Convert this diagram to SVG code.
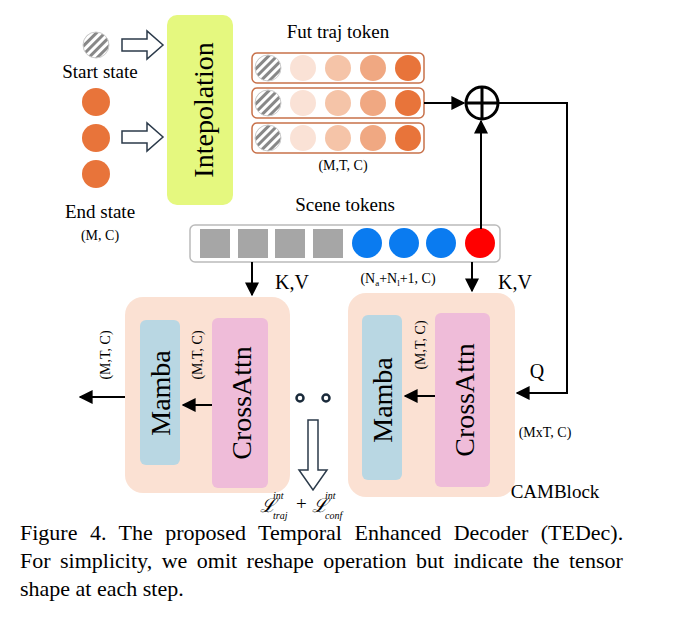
<svg xmlns="http://www.w3.org/2000/svg" width="674" height="620" viewBox="0 0 674 620">
<defs>
<pattern id="hatch" width="6" height="6" patternUnits="userSpaceOnUse" patternTransform="rotate(45)">
<rect width="6" height="6" fill="#fff"/><rect width="3" height="6" fill="#888"/>
</pattern>
<marker id="ah" viewBox="0 0 10 10" refX="9" refY="5" markerWidth="7" markerHeight="7" orient="auto-start-reverse"><path d="M0,0 L10,5 L0,10 z" fill="#000"/></marker>
</defs>
<style>
text{font-family:"Liberation Serif",serif;fill:#000}
.s{font-size:14px}
.m{font-size:19px}
.row{fill:#fff;stroke:#c8714a;stroke-width:1.5}
.c1{fill:#fae2d6}.c2{fill:#f5c4a8}.c3{fill:#f0a882}.c4{fill:#e8743a}
.ln{stroke:#000;stroke-width:2;fill:none}
.hol{fill:#fff;stroke:#2b3a4a;stroke-width:1.5}
.blk{fill:#fbe1d3}
.mam{fill:#b9d7e3}
.ca{fill:#efbcd9}
.sq{fill:#a6a6a6}
.bl{fill:#0a7bf0}
.sub{font-size:10px;font-style:italic}
</style>
<g id="start"><circle cx="96" cy="45" r="13" fill="url(#hatch)" stroke="#ccc"/><text x="100" y="78" text-anchor="middle" class="m">Start state</text></g>
<g id="end"><circle cx="96" cy="102" r="14" class="c4"/><circle cx="96" cy="138" r="14" class="c4"/><circle cx="96" cy="174" r="14" class="c4"/>
<text x="100" y="218" text-anchor="middle" class="m">End state</text><text x="100" y="240" text-anchor="middle" class="s">(M, C)</text></g>
<g id="hollow-arrows">
<path d="M122,39 H147 V31 L163,45 L147,59 V51 H122 Z" class="hol"/>
<path d="M122,131 H147 V123 L163,137 L147,151 V143 H122 Z" class="hol"/>
</g>
<g id="interp"><rect x="167" y="15" width="66" height="190" rx="10" fill="#e5f87f"/>
<text transform="translate(213,110) rotate(-90)" text-anchor="middle" font-size="28">Intepolation</text></g>
<g id="fut"><text x="338" y="38" text-anchor="middle" class="m">Fut traj token</text>
<g id="r1"><rect x="252" y="53" width="172" height="30" rx="5" class="row"/><circle cx="268" cy="68" r="13" fill="url(#hatch)" stroke="#ccc"/><circle cx="303" cy="68" r="13" class="c1"/><circle cx="338" cy="68" r="13" class="c2"/><circle cx="373" cy="68" r="13" class="c3"/><circle cx="408" cy="68" r="13" class="c4"/></g>
<use href="#r1" y="35"/><use href="#r1" y="70"/>
<text x="343" y="170" text-anchor="middle" class="s">(M,T, C)</text></g>
<g id="plus"><circle cx="482" cy="103" r="16" fill="#fff" stroke="#000" stroke-width="3"/><path d="M466,103 H498 M482,87 V119" stroke="#000" stroke-width="3"/></g>
<g id="scene"><text x="345" y="211" text-anchor="middle" class="m">Scene tokens</text>
<rect x="190" y="225" width="310" height="37" rx="5" fill="#fff" stroke="#bbb" stroke-width="1.5"/>
<rect x="200" y="229" width="30" height="29" class="sq"/><rect x="238" y="229" width="30" height="29" class="sq"/><rect x="275" y="229" width="30" height="29" class="sq"/><rect x="313" y="229" width="30" height="29" class="sq"/>
<circle cx="367" cy="243" r="15" class="bl"/><circle cx="404" cy="243" r="15" class="bl"/><circle cx="441" cy="243" r="15" class="bl"/><circle cx="480" cy="243" r="15" fill="#ff0000"/></g>
<g id="block1"><rect x="125" y="297" width="165" height="196" rx="18" class="blk"/>
<rect x="140" y="320" width="40" height="145" rx="6" class="mam"/><rect x="212" y="318" width="56" height="170" rx="6" class="ca"/>
<text transform="translate(170,393) rotate(-90)" text-anchor="middle" font-size="28">Mamba</text>
<text transform="translate(251,403) rotate(-90)" text-anchor="middle" font-size="28">CrossAttn</text>
<text transform="translate(202,355) rotate(-90)" text-anchor="middle" class="s">(M,T, C)</text></g>
<g id="block2"><rect x="348" y="293" width="167" height="204" rx="18" class="blk"/>
<rect x="362" y="315" width="40" height="165" rx="6" class="mam"/><rect x="435" y="313" width="55" height="174" rx="6" class="ca"/>
<text transform="translate(392,400) rotate(-90)" text-anchor="middle" font-size="28">Mamba</text>
<text transform="translate(474,400) rotate(-90)" text-anchor="middle" font-size="28">CrossAttn</text>
<text transform="translate(425,345) rotate(-90)" text-anchor="middle" class="s">(M,T, C)</text>
<text x="555" y="498" text-anchor="middle" class="m">CAMBlock</text></g>
<g id="dots"><circle cx="300" cy="398" r="3.5" fill="none" stroke="#1a2a3a" stroke-width="2.5"/><circle cx="326" cy="398" r="3.5" fill="none" stroke="#1a2a3a" stroke-width="2.5"/>
<path d="M308,420 H318 V470 H327 L313,490 L299,470 H308 Z" class="hol"/>
<text x="260" y="512" font-size="19" font-style="italic">ℒ</text>
<text x="273" y="499" class="sub">int</text><text x="273" y="519" class="sub">traj</text>
<text x="296" y="510" font-size="19">+</text>
<text x="312" y="512" font-size="19" font-style="italic">ℒ</text>
<text x="325" y="499" class="sub">int</text><text x="325" y="519" class="sub">conf</text>
</g>
<g id="connectors">
<path d="M424,103 H464" class="ln" marker-end="url(#ah)"/>
<path d="M481,229 V121" class="ln" marker-end="url(#ah)"/>
<path d="M498,103 H567 V393 H517" class="ln" marker-end="url(#ah)"/>
<path d="M252,262 V295" class="ln" marker-end="url(#ah)"/>
<path d="M472,262 V291" class="ln" marker-end="url(#ah)"/>
<path d="M212,405 H183" class="ln" marker-end="url(#ah)"/>
<path d="M435,396 H405" class="ln" marker-end="url(#ah)"/>
<path d="M125,397 H80" class="ln" marker-end="url(#ah)"/>
<text x="292" y="289" text-anchor="middle" font-size="20">K,V</text>
<text x="515" y="289" text-anchor="middle" font-size="20">K,V</text>
<text x="398" y="283" text-anchor="middle" class="s">(N<tspan font-size="9" dy="3">a</tspan><tspan dy="-3">+N</tspan><tspan font-size="9" dy="3">l</tspan><tspan dy="-3">+1, C)</tspan></text>
<text x="537" y="378" text-anchor="middle" font-size="20">Q</text>
<text x="545" y="437" text-anchor="middle" class="s">(MxT, C)</text>
<text transform="translate(110,355) rotate(-90)" text-anchor="middle" class="s">(M,T, C)</text>
</g>
<g id="caption">
<text x="20" y="540" font-size="22" word-spacing="7">Figure 4.  The proposed Temporal Enhanced Decoder (TEDec).</text>
<text x="20" y="568" font-size="22" word-spacing="4">For simplicity, we omit reshape operation but indicate the tensor</text>
<text x="20" y="596" font-size="22">shape at each step.</text>
</g>
</svg>
